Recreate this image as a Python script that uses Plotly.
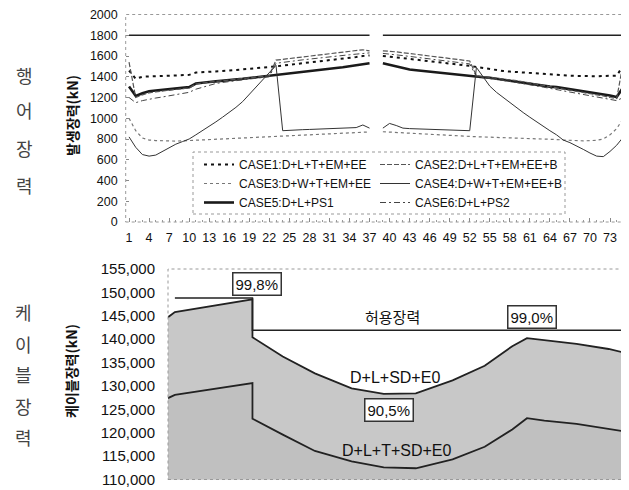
import plotly.graph_objects as go

# ---------------- top chart data (hanger tension, kN) ----------------
hanger_idx = list(range(1, 76))
tick_idx = list(range(1, 76, 3))
allow_hanger = 1800

case1_left = [1460, 1380, 1400, 1405, 1405, 1408, 1410, 1412, 1415, 1418, 1440, 1442, 1445, 1450, 1455, 1460,
              1465, 1470, 1475, 1480, 1485, 1490, 1500, 1508, 1515, 1522, 1530, 1538, 1545, 1552, 1560, 1568,
              1575, 1583, 1590, 1600, 1605]
case1_right = [1600, 1595, 1588, 1580, 1572, 1565, 1558, 1550, 1542, 1535, 1528, 1520, 1512, 1505, 1495, 1485,
               1470, 1462, 1455, 1450, 1445, 1440, 1435, 1430, 1425, 1420, 1418, 1415, 1410, 1408, 1405, 1405,
               1405, 1408, 1410, 1410, 1510]
case2_left = [1540, 1200, 1225, 1245, 1255, 1262, 1270, 1278, 1285, 1292, 1330, 1342, 1348, 1354, 1360, 1366,
              1373, 1381, 1389, 1396, 1403, 1410, 1560, 1568, 1576, 1584, 1592, 1600, 1608, 1615, 1622, 1630,
              1637, 1644, 1650, 1660, 1650]
case2_right = [1650, 1648, 1640, 1632, 1624, 1616, 1608, 1600, 1592, 1584, 1576, 1568, 1560, 1552, 1410, 1403,
               1396, 1388, 1380, 1372, 1362, 1352, 1342, 1330, 1318, 1305, 1292, 1282, 1272, 1262, 1252, 1240,
               1228, 1215, 1200, 1190, 1540]
case3_left = [1000, 880, 810, 790, 785, 782, 780, 780, 782, 785, 788, 790, 792, 795, 798, 800, 803, 806, 810,
              813, 816, 820, 822, 825, 828, 832, 835, 838, 842, 845, 848, 852, 855, 858, 862, 866, 868]
case3_right = [870, 866, 862, 858, 855, 852, 848, 845, 842, 838, 835, 832, 828, 825, 822, 820, 818, 816, 815,
               813, 812, 810, 808, 805, 802, 800, 795, 790, 786, 783, 782, 784, 788, 800, 840, 900, 1000]
case4_left = [820, 720, 650, 635, 645, 680, 720, 750, 775, 800, 840, 880, 925, 965, 1010, 1055, 1105, 1160,
              1230, 1300, 1370, 1440, 1510, 880, 885, 888, 890, 892, 895, 897, 900, 900, 902, 905, 910, 935, 905]
case4_right = [905, 950, 930, 905, 900, 898, 895, 892, 890, 888, 885, 882, 880, 880, 1490, 1400, 1310, 1250,
               1200, 1150, 1100, 1055, 1010, 965, 925, 880, 840, 790, 765, 735, 700, 665, 635, 630, 680, 740, 820]
case5_left = [1305, 1215, 1240, 1260, 1268, 1275, 1282, 1288, 1292, 1300, 1335, 1345, 1350, 1355, 1360, 1365,
              1372, 1380, 1388, 1395, 1400, 1407, 1415, 1422, 1430, 1438, 1445, 1452, 1460, 1468, 1476, 1484,
              1492, 1500, 1510, 1520, 1530]
case5_right = [1530, 1515, 1495, 1478, 1470, 1462, 1455, 1448, 1440, 1432, 1425, 1418, 1410, 1405, 1400, 1395,
               1390, 1380, 1372, 1365, 1355, 1345, 1335, 1325, 1315, 1305, 1300, 1290, 1285, 1275, 1265, 1255,
               1245, 1235, 1220, 1205, 1300]
case6_left = [1200, 1150, 1170, 1185, 1195, 1205, 1215, 1225, 1235, 1250, 1280, 1300, 1320, 1335, 1345, 1355,
              1362, 1370, 1378, 1385, 1392, 1400, 1530, 1540, 1548, 1556, 1563, 1570, 1578, 1585, 1592, 1600,
              1606, 1612, 1618, 1625, 1630]
case6_right = [1625, 1620, 1612, 1604, 1596, 1588, 1580, 1572, 1564, 1556, 1548, 1540, 1532, 1524, 1400, 1392,
               1385, 1375, 1365, 1355, 1345, 1335, 1325, 1312, 1300, 1288, 1276, 1264, 1252, 1240, 1228, 1215,
               1200, 1188, 1175, 1170, 1200]

case_names = ["CASE1:D+L+T+EM+EE", "CASE2:D+L+T+EM+EE+B", "CASE3:D+W+T+EM+EE",
              "CASE4:D+W+T+EM+EE+B", "CASE5:D+L+PS1", "CASE6:D+L+PS2"]

# ---------------- bottom chart data (cable tension, kN) ----------------
cable_pos = [0, 1.5, 18.4, 18.4, 25, 32, 40, 47, 54, 62, 69, 75, 78.2, 82, 89, 96, 100]
cable_dlsde0 = [144700, 145800, 148500, 140400, 136300, 132700, 129500, 128300, 128400, 131200, 134300,
                138500, 140200, 139800, 139000, 137900, 137000]
cable_dltsde0 = [127400, 128100, 130600, 123000, 119600, 116100, 113900, 112600, 112400, 114300, 117000,
                 120700, 123100, 122600, 121900, 120800, 120200]
allow_pos = [1.5, 18.4, 18.4, 100]
allow_cable = [148800, 148800, 141900, 141900]


def join(left, right):
    return left + [None] + right


W, H = 629, 490
OFF = 8  # page body margin


def px(x):
    return (x - OFF) / W


def py(y):
    return 1 - (y - OFF) / H


fig = go.Figure()

# allowable hanger line
fig.add_trace(go.Scatter(x=hanger_idx, y=join([allow_hanger] * 37, [allow_hanger] * 37),
                         mode="lines", line=dict(color="#222", width=1.3), showlegend=False,
                         xaxis="x", yaxis="y", connectgaps=False))

styles = {
    0: dict(color="#111", width=2, dash="3px,4px"),
    1: dict(color="#555", width=1.2, dash="5px,2px"),
    2: dict(color="#777", width=1.2, dash="dot"),
    3: dict(color="#333", width=1),
    4: dict(color="#1a1a1a", width=2.6),
    5: dict(color="#444", width=1, dash="6px,3px,2px,3px"),
}
series = [join(case1_left, case1_right), join(case2_left, case2_right), join(case3_left, case3_right),
          join(case4_left, case4_right), join(case5_left, case5_right), join(case6_left, case6_right)]
order = [0, 2, 4, 1, 3, 5]
for k in order:
    fig.add_trace(go.Scatter(x=hanger_idx, y=series[k], mode="lines", name=case_names[k],
                             line=styles[k], xaxis="x", yaxis="y",
                             legend="legend" if k % 2 == 0 else "legend2"))

# bottom chart
fig.add_trace(go.Scatter(x=cable_pos, y=cable_dlsde0, mode="lines", fill="tozeroy",
                         fillcolor="rgb(200,200,200)", line=dict(color="#222", width=1.8),
                         showlegend=False, xaxis="x2", yaxis="y2"))
fig.add_trace(go.Scatter(x=cable_pos, y=cable_dltsde0, mode="lines", fill="tozeroy",
                         fillcolor="rgb(192,192,192)", line=dict(color="#222", width=1.8),
                         showlegend=False, xaxis="x2", yaxis="y2"))
fig.add_trace(go.Scatter(x=allow_pos, y=allow_cable, mode="lines", line=dict(color="#222", width=1.5),
                         showlegend=False, xaxis="x2", yaxis="y2"))

tickfont = dict(family="Arial, Liberation Sans, sans-serif", size=12.5, color="#111")
fig.update_layout(
    width=W, height=H, margin=dict(l=0, r=0, t=0, b=0, autoexpand=False),
    paper_bgcolor="white", plot_bgcolor="white",
    xaxis=dict(domain=[px(125.7), px(626.7)], range=[0.5, 75.5], tickvals=tick_idx, anchor="y",
               ticks="inside", ticklen=4, tickcolor="#888", showgrid=False, zeroline=False,
               showline=False, tickfont=tickfont, ticklabelstandoff=6, automargin=False,
               ticklabeloverflow="allow",
               minor=dict(dtick=1, ticks="inside", ticklen=2, tickcolor="#999")),
    yaxis=dict(domain=[py(222), py(14.5)], range=[0, 2000], dtick=200, ticks="inside", ticklen=3,
               anchor="x", tickcolor="#888", showgrid=False, zeroline=False, showline=False,
               tickfont=tickfont, ticklabelstandoff=7, automargin=False, ticklabeloverflow="allow"),
    xaxis2=dict(domain=[px(168), px(627)], range=[0, 100], showticklabels=False, ticks="", anchor="y2",
                showgrid=False, zeroline=False, showline=False, automargin=False),
    yaxis2=dict(domain=[py(479.5), py(269)], range=[110000, 155000], dtick=5000, tickformat=",d",
                anchor="x2", ticks="", showgrid=False, zeroline=False, showline=False, automargin=False,
                tickfont=dict(family="Arial, Liberation Sans, sans-serif", size=15, color="#111"),
                ticklabelstandoff=12, ticklabeloverflow="allow"),
    legend=dict(x=px(199), y=py(150), xanchor="left", yanchor="top", bgcolor="rgba(0,0,0,0)",
                font=dict(family="Arial, Liberation Sans, sans-serif", size=12, color="#111"),
                tracegroupgap=0, borderwidth=0),
    legend2=dict(x=px(375), y=py(150), xanchor="left", yanchor="top", bgcolor="rgba(0,0,0,0)",
                 font=dict(family="Arial, Liberation Sans, sans-serif", size=12, color="#111"),
                 tracegroupgap=0, borderwidth=0),
)

border = dict(color="#999", width=1, dash="dot")
fig.add_shape(type="rect", xref="x domain", yref="y domain", x0=0, x1=1, y0=0, y1=1, line=border)
fig.add_shape(type="rect", xref="x2 domain", yref="y2 domain", x0=0, x1=1, y0=0, y1=1, line=border)
fig.add_shape(type="rect", xref="paper", yref="paper", x0=px(193), x1=px(565), y0=py(214), y1=py(152),
              line=border, fillcolor="white", layer="below")

kfont = "Noto Sans CJK KR"
ann = dict(xref="paper", yref="paper", showarrow=False, xanchor="center", yanchor="middle")
for ch, yy in zip(["행", "어", "장", "력"], [75, 110, 148, 185]):
    fig.add_annotation(text=ch, x=px(24), y=py(yy), font=dict(family=kfont, size=18, color="#444"), **ann)
for ch, yy in zip(["케", "이", "블", "장", "력"], [312, 344, 374, 406, 437]):
    fig.add_annotation(text=ch, x=px(23), y=py(yy), font=dict(family=kfont, size=18, color="#444"), **ann)

fig.add_annotation(text="<b>발생장력(kN)</b>", x=px(72), y=py(116), textangle=-90,
                   font=dict(family=kfont, size=14, color="#111"), **ann)
fig.add_annotation(text="<b>케이블장력(kN)</b>", x=px(71), y=py(371), textangle=-90,
                   font=dict(family=kfont, size=14, color="#111"), **ann)

dann = dict(xref="x2", yref="y2", showarrow=False, xanchor="center", yanchor="middle")
afont = dict(family="Arial, Liberation Sans, sans-serif", size=15, color="#111")
for txt, xx, yy in [("99,8%", 19.4, 151900), ("99,0%", 79.3, 144700), ("90,5%", 48.1, 124900)]:
    fig.add_annotation(text=txt, x=xx, y=yy, font=afont, bgcolor="white", bordercolor="#333",
                       borderwidth=1.5, borderpad=2, **dann)
fig.add_annotation(text="허용장력", x=49.0, y=144900, font=dict(family=kfont, size=15, color="#111"), **dann)
fig.add_annotation(text="D+L+SD+E0", x=49.5, y=131850,
                   font=dict(family="Arial, Liberation Sans, sans-serif", size=16, color="#111"), **dann)
fig.add_annotation(text="D+L+T+SD+E0", x=49.9, y=116200,
                   font=dict(family="Arial, Liberation Sans, sans-serif", size=16, color="#111"), **dann)

fig.write_html("out.html")
